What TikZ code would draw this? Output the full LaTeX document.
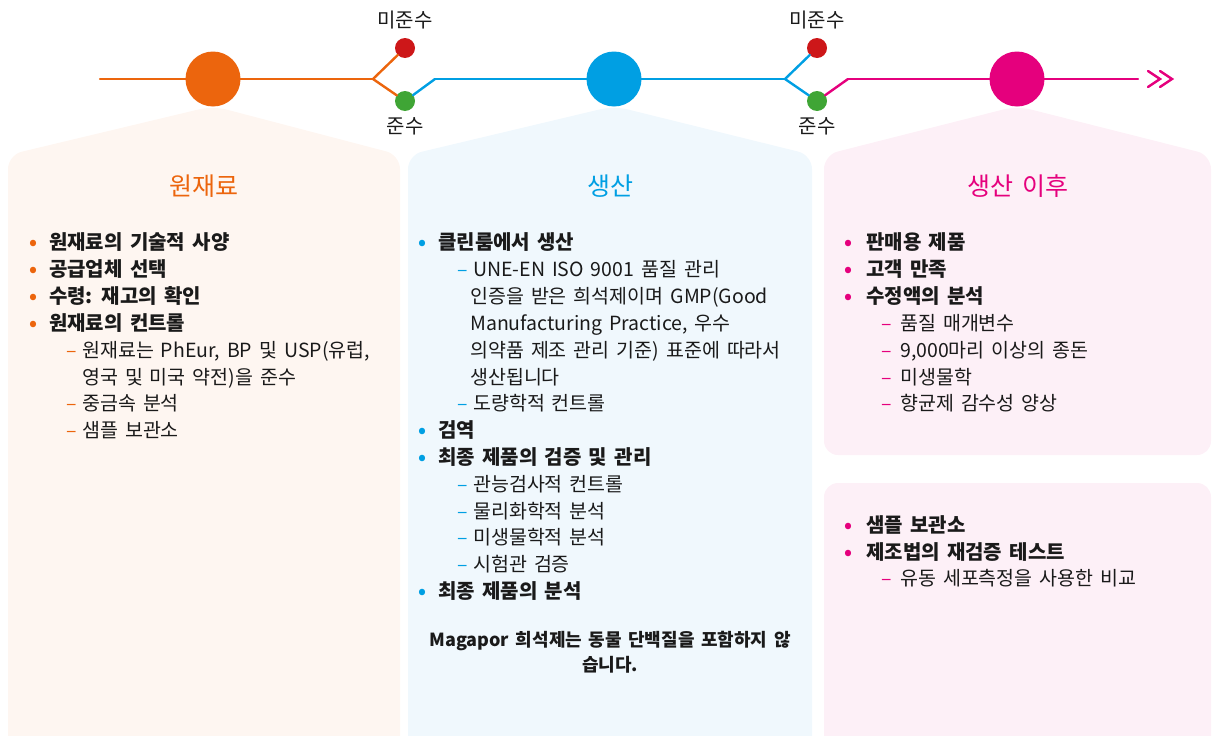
\documentclass[tikz,border=0pt]{standalone}
\usepackage{fontspec}
\setmainfont{Noto Sans CJK KR}[WordSpace = 1.6]
\usepackage{tkz-graph}
\usetikzlibrary{arrows}
\usetikzlibrary{shapes}

\definecolor{rawOrange}{HTML}{EC650D}
\definecolor{prodBlue}{HTML}{009FE3}
\definecolor{postPink}{HTML}{E5007D}
\definecolor{failRed}{HTML}{CD1719}
\definecolor{passGreen}{HTML}{3FA535}
\definecolor{rawBg}{HTML}{FEF6F1}
\definecolor{prodBg}{HTML}{F0F8FD}
\definecolor{postBg}{HTML}{FDF0F7}
\definecolor{ink}{HTML}{1A1A1A}

\newcommand{\itemdot}[2][20pt]{\makebox[#1][l]{\textcolor{#2}{•}}}
\newcommand{\itemdash}[2][16pt]{\makebox[#1][l]{\textcolor{#2}{–}}}

\begin{document}
\begin{tikzpicture}[x = 1pt, y = -1pt]
	\tikzstyle{VertexStyle} = []
	\tikzstyle{EdgeStyle} = [line width = 2.4pt, line cap = round]
	\tikzstyle{phaseStyle} = [shape = circle, minimum size = 55pt, inner sep = 0pt]
	\tikzstyle{dotStyle} = [shape = circle, minimum size = 20pt, inner sep = 0pt]
	\tikzstyle{bendStyle} = [shape = circle, minimum size = 0pt, inner sep = 0pt]
	\tikzstyle{titleStyle} = [inner sep = 0pt, font = \fontsize{25pt}{28pt}\selectfont]
	\tikzstyle{tagStyle} = [inner sep = 0pt, text = ink, font = \fontsize{20pt}{24pt}\selectfont]
	\tikzstyle{boldItem} = [anchor = base west, inner sep = 0pt, text = ink, font = \fontsize{20pt}{22pt}\selectfont\bfseries]
	\tikzstyle{plainItem} = [anchor = base west, inner sep = 0pt, text = ink, font = \fontsize{19.5pt}{22pt}\selectfont]
	\useasboundingbox (0,0) rectangle (1213,736);
	% panels
	\fill[rawBg, rounded corners = 14pt] (8,750) -- (8,155) -- (213,106) -- (400,155) -- (400,750) -- cycle;
	\fill[prodBg, rounded corners = 14pt] (408,750) -- (408,155) -- (614,106) -- (812,155) -- (812,750) -- cycle;
	\fill[postBg, rounded corners = 14pt] (824,455) -- (824,155) -- (1017,106) -- (1211,155) -- (1211,455) -- cycle;
	\fill[postBg, rounded corners = 14pt] (824,750) -- (824,483) -- (1211,483) -- (1211,750) -- cycle;
	% timeline
	\Vertex[style = bendStyle, x = 100, y = 79, NoLabel]{start}
	\Vertex[style = {phaseStyle, fill = rawOrange}, x = 213, y = 79, NoLabel]{rawC}
	\Vertex[style = bendStyle, x = 373, y = 79, NoLabel]{forkA}
	\Vertex[style = {dotStyle, fill = failRed}, x = 405, y = 48, NoLabel]{failA}
	\Vertex[style = {dotStyle, fill = passGreen}, x = 405, y = 101, NoLabel]{passA}
	\Vertex[style = bendStyle, x = 435, y = 79, NoLabel]{bendA}
	\Vertex[style = {phaseStyle, fill = prodBlue}, x = 614, y = 79, NoLabel]{prodC}
	\Vertex[style = bendStyle, x = 785, y = 79, NoLabel]{forkB}
	\Vertex[style = {dotStyle, fill = failRed}, x = 817, y = 48, NoLabel]{failB}
	\Vertex[style = {dotStyle, fill = passGreen}, x = 817, y = 101, NoLabel]{passB}
	\Vertex[style = bendStyle, x = 848, y = 79, NoLabel]{bendB}
	\Vertex[style = {phaseStyle, fill = postPink}, x = 1017, y = 79, NoLabel]{postC}
	\Vertex[style = bendStyle, x = 1138, y = 79, NoLabel]{tail}
	\Edge[style = {draw = rawOrange}](start)(rawC)
	\Edge[style = {draw = rawOrange}](rawC)(forkA)
	\Edge[style = {draw = rawOrange}](forkA)(failA)
	\Edge[style = {draw = rawOrange}](forkA)(passA)
	\Edge[style = {draw = prodBlue}](passA)(bendA)
	\Edge[style = {draw = prodBlue}](bendA)(prodC)
	\Edge[style = {draw = prodBlue}](prodC)(forkB)
	\Edge[style = {draw = prodBlue}](forkB)(failB)
	\Edge[style = {draw = prodBlue}](forkB)(passB)
	\Edge[style = {draw = postPink}](passB)(bendB)
	\Edge[style = {draw = postPink}](bendB)(postC)
	\Edge[style = {draw = postPink}](postC)(tail)
	\draw[postPink, line width = 2.4pt, line cap = round] (tail) ++(10,-8) -- ++(12,8) -- ++(-12,8);
	\draw[postPink, line width = 2.4pt, line cap = round] (tail) ++(22,-8) -- ++(12,8) -- ++(-12,8);
	\node[tagStyle] (failTagA) at (405,20) {미준수};
	\node[tagStyle] (passTagA) at (405,126) {준수};
	\node[tagStyle] (failTagB) at (817,20) {미준수};
	\node[tagStyle] (passTagB) at (817,126) {준수};
	% titles
	\node[titleStyle, text = rawOrange] (rawTitle) at (204,186) {원재료};
	\node[titleStyle, text = prodBlue] (prodTitle) at (610,186) {생산};
	\node[titleStyle, text = postPink] (postTitle) at (1018,186) {생산 이후};
	% raw materials
	\node[boldItem] (raw1) at (29,249) {\itemdot{rawOrange}원재료의 기술적 사양};
	\node[boldItem] (raw2) at (29,276) {\itemdot{rawOrange}공급업체 선택};
	\node[boldItem] (raw3) at (29,303) {\itemdot{rawOrange}수령: 재고의 확인};
	\node[boldItem] (raw4) at (29,330) {\itemdot{rawOrange}원재료의 컨트롤};
	\node[plainItem] (raw5) at (66,357) {\itemdash{rawOrange}원재료는 PhEur, BP 및 USP(유럽,};
	\node[plainItem] (raw6) at (82,384) {영국 및 미국 약전)을 준수};
	\node[plainItem] (raw7) at (66,410) {\itemdash{rawOrange}중금속 분석};
	\node[plainItem] (raw8) at (66,437) {\itemdash{rawOrange}샘플 보관소};
	% production
	\node[boldItem] (prod1) at (418,249) {\itemdot{prodBlue}클린룸에서 생산};
	\node[plainItem] (prod2) at (457,276) {\itemdash{prodBlue}UNE-EN ISO 9001 품질 관리};
	\node[plainItem] (prod3) at (470,303) {인증을 받은 희석제이며 GMP(Good};
	\node[plainItem] (prod4) at (470,330) {Manufacturing Practice, 우수};
	\node[plainItem] (prod5) at (470,357) {의약품 제조 관리 기준) 표준에 따라서};
	\node[plainItem] (prod6) at (470,384) {생산됩니다};
	\node[plainItem] (prod7) at (457,410) {\itemdash{prodBlue}도량학적 컨트롤};
	\node[boldItem] (prod8) at (418,437) {\itemdot{prodBlue}검역};
	\node[boldItem] (prod9) at (418,464) {\itemdot{prodBlue}최종 제품의 검증 및 관리};
	\node[plainItem] (prod10) at (457,491) {\itemdash{prodBlue}관능검사적 컨트롤};
	\node[plainItem] (prod11) at (457,518) {\itemdash{prodBlue}물리화학적 분석};
	\node[plainItem] (prod12) at (457,544) {\itemdash{prodBlue}미생물학적 분석};
	\node[plainItem] (prod13) at (457,571) {\itemdash{prodBlue}시험관 검증};
	\node[boldItem] (prod14) at (418,598) {\itemdot{prodBlue}최종 제품의 분석};
	\node[inner sep = 0pt, text = ink, align = center, font = \fontsize{18pt}{25pt}\selectfont\bfseries] (prodNote) at (610,652) {Magapor 희석제는 동물 단백질을 포함하지 않\\습니다.};
	% after production
	\node[boldItem] (post1) at (844,249) {\itemdot[22pt]{postPink}판매용 제품};
	\node[boldItem] (post2) at (844,276) {\itemdot[22pt]{postPink}고객 만족};
	\node[boldItem] (post3) at (844,303) {\itemdot[22pt]{postPink}수정액의 분석};
	\node[plainItem] (post4) at (881,330) {\itemdash[19pt]{postPink}품질 매개변수};
	\node[plainItem] (post5) at (881,357) {\itemdash[19pt]{postPink}9,000마리 이상의 종돈};
	\node[plainItem] (post6) at (881,384) {\itemdash[19pt]{postPink}미생물학};
	\node[plainItem] (post7) at (881,410) {\itemdash[19pt]{postPink}향균제 감수성 양상};
	\node[boldItem] (post8) at (844,532) {\itemdot[22pt]{postPink}샘플 보관소};
	\node[boldItem] (post9) at (844,559) {\itemdot[22pt]{postPink}제조법의 재검증 테스트};
	\node[plainItem] (post10) at (881,585) {\itemdash[19pt]{postPink}유동 세포측정을 사용한 비교};
\end{tikzpicture}
\end{document}
